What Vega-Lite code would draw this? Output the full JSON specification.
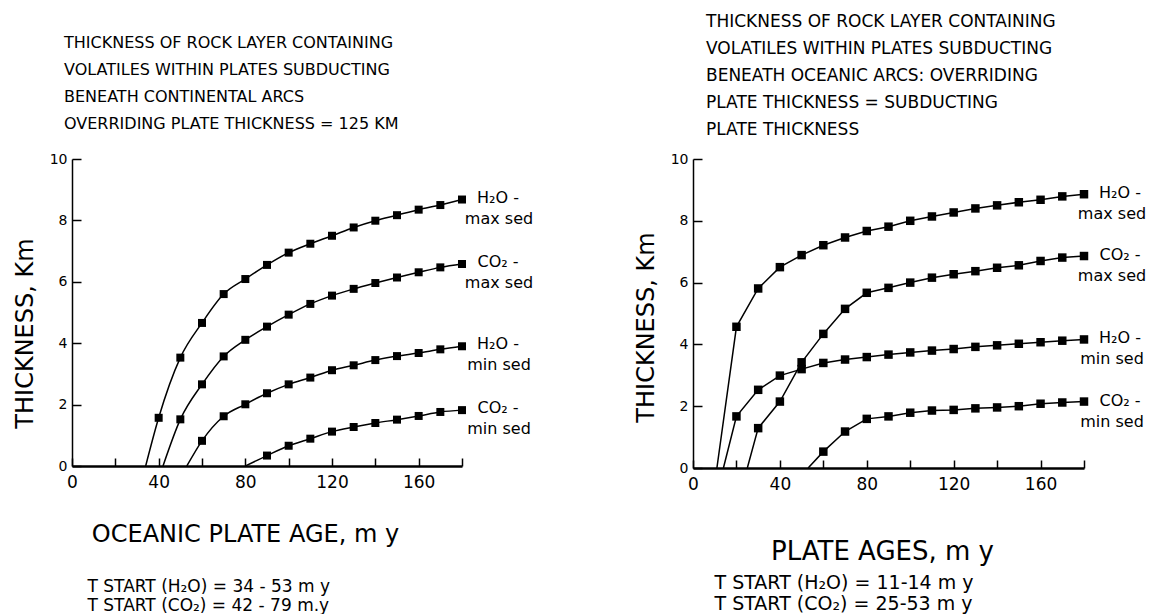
{
  "$schema": "https://vega.github.io/schema/vega-lite/v6.json",
  "background": "white",
  "padding": {"left": 13, "top": 13, "right": 0, "bottom": 0},
  "bounds": "flush",
  "spacing": 231,
  "config": {
    "view": {"stroke": null},
    "font": "DejaVu Sans",
    "axis": {"domainColor": "black", "tickColor": "black", "labelColor": "black", "titleColor": "black", "grid": false, "labelFontWeight": "normal", "titleFontWeight": "normal"}
  },
  "datasets": {
    "left": [
      {"s": "hm", "a": 34, "t": 0, "m": 0}, {"s": "hm", "a": 40, "t": 1.57, "m": 1}, {"s": "hm", "a": 50, "t": 3.53, "m": 1}, {"s": "hm", "a": 60, "t": 4.66, "m": 1}, {"s": "hm", "a": 70, "t": 5.6, "m": 1}, {"s": "hm", "a": 80, "t": 6.09, "m": 1}, {"s": "hm", "a": 90, "t": 6.55, "m": 1}, {"s": "hm", "a": 100, "t": 6.95, "m": 1}, {"s": "hm", "a": 110, "t": 7.24, "m": 1}, {"s": "hm", "a": 120, "t": 7.5, "m": 1}, {"s": "hm", "a": 130, "t": 7.77, "m": 1}, {"s": "hm", "a": 140, "t": 7.99, "m": 1}, {"s": "hm", "a": 150, "t": 8.17, "m": 1}, {"s": "hm", "a": 160, "t": 8.35, "m": 1}, {"s": "hm", "a": 170, "t": 8.5, "m": 1}, {"s": "hm", "a": 180, "t": 8.68, "m": 1},
      {"s": "cm", "a": 42, "t": 0, "m": 0}, {"s": "cm", "a": 50, "t": 1.52, "m": 1}, {"s": "cm", "a": 60, "t": 2.66, "m": 1}, {"s": "cm", "a": 70, "t": 3.57, "m": 1}, {"s": "cm", "a": 80, "t": 4.11, "m": 1}, {"s": "cm", "a": 90, "t": 4.54, "m": 1}, {"s": "cm", "a": 100, "t": 4.93, "m": 1}, {"s": "cm", "a": 110, "t": 5.28, "m": 1}, {"s": "cm", "a": 120, "t": 5.55, "m": 1}, {"s": "cm", "a": 130, "t": 5.77, "m": 1}, {"s": "cm", "a": 140, "t": 5.96, "m": 1}, {"s": "cm", "a": 150, "t": 6.14, "m": 1}, {"s": "cm", "a": 160, "t": 6.31, "m": 1}, {"s": "cm", "a": 170, "t": 6.47, "m": 1}, {"s": "cm", "a": 180, "t": 6.58, "m": 1},
      {"s": "hn", "a": 53, "t": 0, "m": 0}, {"s": "hn", "a": 60, "t": 0.82, "m": 1}, {"s": "hn", "a": 70, "t": 1.62, "m": 1}, {"s": "hn", "a": 80, "t": 2.01, "m": 1}, {"s": "hn", "a": 90, "t": 2.37, "m": 1}, {"s": "hn", "a": 100, "t": 2.66, "m": 1}, {"s": "hn", "a": 110, "t": 2.88, "m": 1}, {"s": "hn", "a": 120, "t": 3.12, "m": 1}, {"s": "hn", "a": 130, "t": 3.28, "m": 1}, {"s": "hn", "a": 140, "t": 3.45, "m": 1}, {"s": "hn", "a": 150, "t": 3.58, "m": 1}, {"s": "hn", "a": 160, "t": 3.68, "m": 1}, {"s": "hn", "a": 170, "t": 3.8, "m": 1}, {"s": "hn", "a": 180, "t": 3.9, "m": 1},
      {"s": "cn", "a": 80, "t": 0, "m": 0}, {"s": "cn", "a": 90, "t": 0.34, "m": 1}, {"s": "cn", "a": 100, "t": 0.66, "m": 1}, {"s": "cn", "a": 110, "t": 0.89, "m": 1}, {"s": "cn", "a": 120, "t": 1.12, "m": 1}, {"s": "cn", "a": 130, "t": 1.27, "m": 1}, {"s": "cn", "a": 140, "t": 1.4, "m": 1}, {"s": "cn", "a": 150, "t": 1.51, "m": 1}, {"s": "cn", "a": 160, "t": 1.63, "m": 1}, {"s": "cn", "a": 170, "t": 1.76, "m": 1}, {"s": "cn", "a": 180, "t": 1.82, "m": 1}
    ],
    "right": [
      {"s": "hm", "a": 11, "t": 0, "m": 0}, {"s": "hm", "a": 20, "t": 4.57, "m": 1}, {"s": "hm", "a": 30, "t": 5.81, "m": 1}, {"s": "hm", "a": 40, "t": 6.5, "m": 1}, {"s": "hm", "a": 50, "t": 6.89, "m": 1}, {"s": "hm", "a": 60, "t": 7.21, "m": 1}, {"s": "hm", "a": 70, "t": 7.46, "m": 1}, {"s": "hm", "a": 80, "t": 7.67, "m": 1}, {"s": "hm", "a": 90, "t": 7.81, "m": 1}, {"s": "hm", "a": 100, "t": 8.0, "m": 1}, {"s": "hm", "a": 110, "t": 8.14, "m": 1}, {"s": "hm", "a": 120, "t": 8.27, "m": 1}, {"s": "hm", "a": 130, "t": 8.4, "m": 1}, {"s": "hm", "a": 140, "t": 8.5, "m": 1}, {"s": "hm", "a": 150, "t": 8.6, "m": 1}, {"s": "hm", "a": 160, "t": 8.68, "m": 1}, {"s": "hm", "a": 170, "t": 8.79, "m": 1}, {"s": "hm", "a": 180, "t": 8.86, "m": 1},
      {"s": "hn", "a": 14, "t": 0, "m": 0}, {"s": "hn", "a": 20, "t": 1.67, "m": 1}, {"s": "hn", "a": 30, "t": 2.53, "m": 1}, {"s": "hn", "a": 40, "t": 2.99, "m": 1}, {"s": "hn", "a": 50, "t": 3.2, "m": 1}, {"s": "hn", "a": 60, "t": 3.4, "m": 1}, {"s": "hn", "a": 70, "t": 3.51, "m": 1}, {"s": "hn", "a": 80, "t": 3.59, "m": 1}, {"s": "hn", "a": 90, "t": 3.67, "m": 1}, {"s": "hn", "a": 100, "t": 3.74, "m": 1}, {"s": "hn", "a": 110, "t": 3.8, "m": 1}, {"s": "hn", "a": 120, "t": 3.85, "m": 1}, {"s": "hn", "a": 130, "t": 3.92, "m": 1}, {"s": "hn", "a": 140, "t": 3.97, "m": 1}, {"s": "hn", "a": 150, "t": 4.02, "m": 1}, {"s": "hn", "a": 160, "t": 4.07, "m": 1}, {"s": "hn", "a": 170, "t": 4.12, "m": 1}, {"s": "hn", "a": 180, "t": 4.16, "m": 1},
      {"s": "cm", "a": 25, "t": 0, "m": 0}, {"s": "cm", "a": 30, "t": 1.29, "m": 1}, {"s": "cm", "a": 40, "t": 2.15, "m": 1}, {"s": "cm", "a": 50, "t": 3.42, "m": 1}, {"s": "cm", "a": 60, "t": 4.34, "m": 1}, {"s": "cm", "a": 70, "t": 5.15, "m": 1}, {"s": "cm", "a": 80, "t": 5.67, "m": 1}, {"s": "cm", "a": 90, "t": 5.83, "m": 1}, {"s": "cm", "a": 100, "t": 6.0, "m": 1}, {"s": "cm", "a": 110, "t": 6.16, "m": 1}, {"s": "cm", "a": 120, "t": 6.27, "m": 1}, {"s": "cm", "a": 130, "t": 6.37, "m": 1}, {"s": "cm", "a": 140, "t": 6.48, "m": 1}, {"s": "cm", "a": 150, "t": 6.56, "m": 1}, {"s": "cm", "a": 160, "t": 6.7, "m": 1}, {"s": "cm", "a": 170, "t": 6.81, "m": 1}, {"s": "cm", "a": 180, "t": 6.86, "m": 1},
      {"s": "cn", "a": 53, "t": 0, "m": 0}, {"s": "cn", "a": 60, "t": 0.53, "m": 1}, {"s": "cn", "a": 70, "t": 1.18, "m": 1}, {"s": "cn", "a": 80, "t": 1.59, "m": 1}, {"s": "cn", "a": 90, "t": 1.67, "m": 1}, {"s": "cn", "a": 100, "t": 1.79, "m": 1}, {"s": "cn", "a": 110, "t": 1.86, "m": 1}, {"s": "cn", "a": 120, "t": 1.88, "m": 1}, {"s": "cn", "a": 130, "t": 1.93, "m": 1}, {"s": "cn", "a": 140, "t": 1.96, "m": 1}, {"s": "cn", "a": 150, "t": 2.0, "m": 1}, {"s": "cn", "a": 160, "t": 2.08, "m": 1}, {"s": "cn", "a": 170, "t": 2.12, "m": 1}, {"s": "cn", "a": 180, "t": 2.15, "m": 1}
    ],
    "labels": [
      {"s": "hm", "l1": "H₂O -", "l2": "max sed"},
      {"s": "cm", "l1": "CO₂ -", "l2": "max sed"},
      {"s": "hn", "l1": "H₂O -", "l2": "min sed"},
      {"s": "cn", "l1": "CO₂ -", "l2": "min sed"}
    ]
  },
  "hconcat": [
    {
      "width": 390,
      "height": 307,
      "title": {"text": ["THICKNESS OF ROCK LAYER CONTAINING", "VOLATILES WITHIN PLATES SUBDUCTING", "BENEATH CONTINENTAL ARCS", "OVERRIDING PLATE THICKNESS = 125 KM"], "anchor": "start", "frame": "group", "dx": -8, "offset": 4, "font": "DejaVu Sans", "fontSize": 16, "fontWeight": "normal", "lineHeight": 27, "baseline": "bottom", "color": "black"},
      "data": {"name": "left"},
      "resolve": {"axis": {"x": "independent"}},
      "layer": [
        {
          "mark": {"type": "line", "interpolate": "monotone", "color": "black", "strokeWidth": 1.5},
          "encoding": {
            "x": {"field": "a", "type": "quantitative", "scale": {"domain": [0, 180], "nice": false, "zero": false},
              "axis": {"orient": "bottom", "values": [0, 20, 40, 60, 80, 100, 120, 140, 160, 180], "labelExpr": "datum.value % 40 == 0 ? datum.label : ''", "labelOverlap": false, "labelFlush": false, "tickSize": -8, "tickWidth": 1.5, "domainWidth": 2.5, "labelPadding": 16, "labelFont": "DejaVu Sans", "labelFontSize": 17,
                "title": "OCEANIC PLATE AGE, m y", "titleFont": "DejaVu Sans", "titleFontSize": 24, "titleX": 173, "titleY": 68, "titleAlign": "center", "titleBaseline": "middle"}},
            "y": {"field": "t", "type": "quantitative", "scale": {"domain": [0, 10], "nice": false},
              "axis": {"values": [0, 1, 2, 3, 4, 5, 6, 7, 8, 9, 10], "labelExpr": "datum.value % 2 == 0 ? datum.label : ''", "labelOverlap": false, "labelFlush": false, "tickSize": -9, "tickWidth": 1.5, "domainWidth": 1.5, "labelPadding": 14, "labelFont": "DejaVu Sans", "labelFontSize": 14,
                "title": "THICKNESS, Km", "titleFont": "DejaVu Sans", "titleFontSize": 24, "titlePadding": 12, "titleY": 174, "titleAlign": "center"}},
            "detail": {"field": "s"}
          }
        },
        {
          "transform": [{"filter": "datum.m == 1"}],
          "mark": {"type": "square", "size": 64, "color": "black", "opacity": 1},
          "encoding": {
            "x": {"field": "a", "type": "quantitative",
              "axis": {"orient": "bottom", "labels": false, "ticks": false, "domain": false, "title": ["T START (H₂O) = 34 - 53 m y", "T START (CO₂) = 42 - 79 m.y"], "titleFont": "DejaVu Sans", "titleFontSize": 17, "titleLineHeight": 19, "titleX": 15, "titleY": 112, "titleAlign": "left", "titleBaseline": "top"}},
            "y": {"field": "t", "type": "quantitative"}
          }
        },
        {
          "transform": [{"filter": "datum.a == 180"}, {"lookup": "s", "from": {"data": {"name": "labels"}, "key": "s", "fields": ["l1", "l2"]}}],
          "mark": {"type": "text", "align": "center", "baseline": "middle", "dx": 36, "dy": -2, "font": "DejaVu Sans", "fontSize": 16, "color": "black"},
          "encoding": {
            "x": {"field": "a", "type": "quantitative", "axis": null},
            "y": {"field": "t", "type": "quantitative"},
            "text": {"field": "l1"}
          }
        },
        {
          "transform": [{"filter": "datum.a == 180"}, {"lookup": "s", "from": {"data": {"name": "labels"}, "key": "s", "fields": ["l1", "l2"]}}],
          "mark": {"type": "text", "align": "center", "baseline": "middle", "dx": 37, "dy": 19, "font": "DejaVu Sans", "fontSize": 16, "color": "black"},
          "encoding": {
            "x": {"field": "a", "type": "quantitative", "axis": null},
            "y": {"field": "t", "type": "quantitative"},
            "text": {"field": "l2"}
          }
        }
      ]
    },
    {
      "width": 391,
      "height": 309,
      "title": {"text": ["THICKNESS OF ROCK LAYER CONTAINING", "VOLATILES WITHIN PLATES SUBDUCTING", "BENEATH OCEANIC ARCS: OVERRIDING", "PLATE THICKNESS = SUBDUCTING", "PLATE THICKNESS"], "anchor": "start", "frame": "group", "dx": 13, "offset": -4, "font": "DejaVu Sans", "fontSize": 17, "fontWeight": "normal", "lineHeight": 27, "baseline": "bottom", "color": "black"},
      "data": {"name": "right"},
      "resolve": {"axis": {"x": "independent"}},
      "layer": [
        {
          "mark": {"type": "line", "interpolate": "linear", "color": "black", "strokeWidth": 1.5},
          "encoding": {
            "x": {"field": "a", "type": "quantitative", "scale": {"domain": [0, 180], "nice": false, "zero": false},
              "axis": {"orient": "bottom", "values": [0, 20, 40, 60, 80, 100, 120, 140, 160, 180], "labelExpr": "datum.value % 40 == 0 ? datum.label : ''", "labelOverlap": false, "labelFlush": false, "tickSize": -8, "tickWidth": 1.5, "domainWidth": 2.5, "labelPadding": 16, "labelFont": "DejaVu Sans", "labelFontSize": 17,
                "title": "PLATE AGES, m y", "titleFont": "DejaVu Sans", "titleFontSize": 26, "titleX": 189, "titleY": 83, "titleAlign": "center", "titleBaseline": "middle"}},
            "y": {"field": "t", "type": "quantitative", "scale": {"domain": [0, 10], "nice": false},
              "axis": {"values": [0, 1, 2, 3, 4, 5, 6, 7, 8, 9, 10], "labelExpr": "datum.value % 2 == 0 ? datum.label : ''", "labelOverlap": false, "labelFlush": false, "tickSize": -9, "tickWidth": 1.5, "domainWidth": 1.5, "labelPadding": 14, "labelFont": "DejaVu Sans", "labelFontSize": 14,
                "title": "THICKNESS, Km", "titleFont": "DejaVu Sans", "titleFontSize": 24, "titlePadding": 12, "titleY": 168, "titleAlign": "center"}},
            "detail": {"field": "s"}
          }
        },
        {
          "transform": [{"filter": "datum.m == 1"}],
          "mark": {"type": "square", "size": 72, "color": "black", "opacity": 1},
          "encoding": {
            "x": {"field": "a", "type": "quantitative",
              "axis": {"orient": "bottom", "labels": false, "ticks": false, "domain": false, "title": ["T START (H₂O) = 11-14 m y", "T START (CO₂) = 25-53 m y"], "titleFont": "DejaVu Sans", "titleFontSize": 19, "titleLineHeight": 21.5, "titleX": 21, "titleY": 105, "titleAlign": "left", "titleBaseline": "top"}},
            "y": {"field": "t", "type": "quantitative"}
          }
        },
        {
          "transform": [{"filter": "datum.a == 180"}, {"lookup": "s", "from": {"data": {"name": "labels"}, "key": "s", "fields": ["l1", "l2"]}}],
          "mark": {"type": "text", "align": "center", "baseline": "middle", "dx": 36, "dy": -1, "font": "DejaVu Sans", "fontSize": 16, "color": "black"},
          "encoding": {
            "x": {"field": "a", "type": "quantitative", "axis": null},
            "y": {"field": "t", "type": "quantitative"},
            "text": {"field": "l1"}
          }
        },
        {
          "transform": [{"filter": "datum.a == 180"}, {"lookup": "s", "from": {"data": {"name": "labels"}, "key": "s", "fields": ["l1", "l2"]}}],
          "mark": {"type": "text", "align": "center", "baseline": "middle", "dx": 28, "dy": 20, "font": "DejaVu Sans", "fontSize": 16, "color": "black"},
          "encoding": {
            "x": {"field": "a", "type": "quantitative", "axis": null},
            "y": {"field": "t", "type": "quantitative"},
            "text": {"field": "l2"}
          }
        }
      ]
    }
  ]
}
